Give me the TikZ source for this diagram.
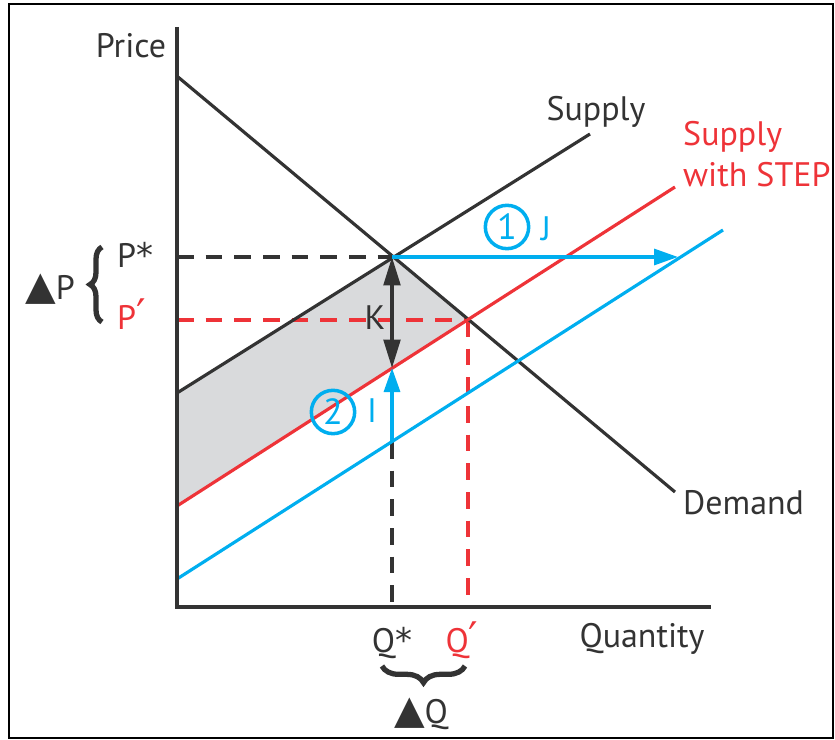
\documentclass[tikz,border=0pt]{standalone}
\usepackage{fontspec}
\setmainfont{PT Sans}
\newfontfamily\symf{DejaVu Sans}
\usepackage{tikz}
\usetikzlibrary{arrows.meta,decorations.pathreplacing}
\definecolor{ink}{HTML}{333333}
\definecolor{stepred}{HTML}{EE3338}
\definecolor{shift}{HTML}{00AEEF}
\definecolor{bandgrey}{HTML}{D9DADC}
\newcommand{\tri}{{\symf\fontsize{34}{34}\selectfont ▲}}
\newcommand{\prm}{{\symf\fontsize{36}{36}\selectfont ′}}

\begin{document}
\begin{tikzpicture}[
  x=0.03cm,y=-0.03cm,
  font=\fontsize{29}{35}\selectfont,
  ln/.style={line width=2.7pt,draw=ink},
  rd/.style={line width=2.7pt,draw=stepred},
  bl/.style={line width=2.7pt,draw=shift},
  dsh/.style={dash pattern=on 0.5cm off 0.36cm},
  tip/.style={-{Triangle[length=0.72cm,width=0.48cm]}},
  br/.style={decorate,line width=4.5pt,draw=ink},
  num/.style={circle,draw=shift,line width=3pt,text=shift,inner sep=0pt,minimum size=1.3cm,
              font=\fontsize{31}{35}\selectfont},
  lbl/.style={text=ink,inner sep=0pt}]
\useasboundingbox (0,0) rectangle (835,740);
\draw[line width=2.5pt,black] (9,4) rectangle (833,738);
\coordinate (O)   at (177,607);
\coordinate (ytop) at (177,27);
\coordinate (xend) at (711,607);
\coordinate (D1)  at (178,77);
\coordinate (D2)  at (675,492);
\coordinate (S1)  at (177,393);
\coordinate (S2)  at (590,134);
\coordinate (R1)  at (177,506);
\coordinate (R2)  at (675,187);
\coordinate (B1)  at (177,579);
\coordinate (B2)  at (723,230);
\coordinate (E)   at (392,257);
\coordinate (E2)  at (468,320);
\coordinate (Kb)  at (392,368);
\coordinate (Ib)  at (392,442);
\coordinate (Jt)  at (678,257);
\fill[bandgrey] (S1)--(E)--(E2)--(R1)--cycle;
\draw[ln,dsh] (177,257)--(E);
\draw[ln,dsh] (Ib)--(392,607);
\draw[rd,dsh] (177,320)--(E2);
\draw[rd,dsh] (E2)--(468,607);
\draw[ln] (D1)--(D2);
\draw[ln] (S1)--(S2);
\draw[rd] (R1)--(R2);
\draw[bl] (B1)--(B2);
\draw[ln,{Triangle[length=0.85cm,width=0.5cm]}-{Triangle[length=0.85cm,width=0.5cm]}] (E)--(Kb);
\draw[bl,tip] (Ib)--(Kb);
\draw[bl,tip] (E)--(Jt);
\draw[ln,line width=3pt] (ytop)--(O)--(xend);
\draw[br,decoration={brace,amplitude=0.36cm}] (102,322)--(102,247);
\draw[br,decoration={brace,amplitude=0.5cm}] (465,666)--(382,666);
\node[lbl] (price) at (131,46) {Price};
\node[lbl,anchor=base] (supl) at (596,121) {Supply};
\node[lbl,text=stepred,anchor=north west,align=left] (stepl) at (683,121) {Supply\\with STEP};
\node[lbl,anchor=base west] (dem) at (683,514) {Demand};
\node[lbl,anchor=base] (qty) at (642,647) {Quantity};
\node[lbl,anchor=base] (qs) at (392,652) {Q{\symf *}};
\node[lbl,anchor=base,text=stepred] (qp) at (462,652) {Q\prm};
\node[lbl,anchor=base] (dq) at (421,723) {\tri Q};
\node[lbl,anchor=base] (dp) at (50,300) {\tri P};
\node[lbl,anchor=base west] (ps) at (117,268) {P{\symf *}};
\node[lbl,anchor=base west,text=stepred] (pp) at (117,330) {P\prm};
\node[lbl] (klab) at (375,318) {K};
\node[num] (one) at (507,227) {1};
\node[lbl,text=shift] (jlab) at (546,229) {J};
\node[num] (two) at (333,412) {2};
\node[lbl,text=shift] (ilab) at (372,411) {I};
\end{tikzpicture}
\end{document}
